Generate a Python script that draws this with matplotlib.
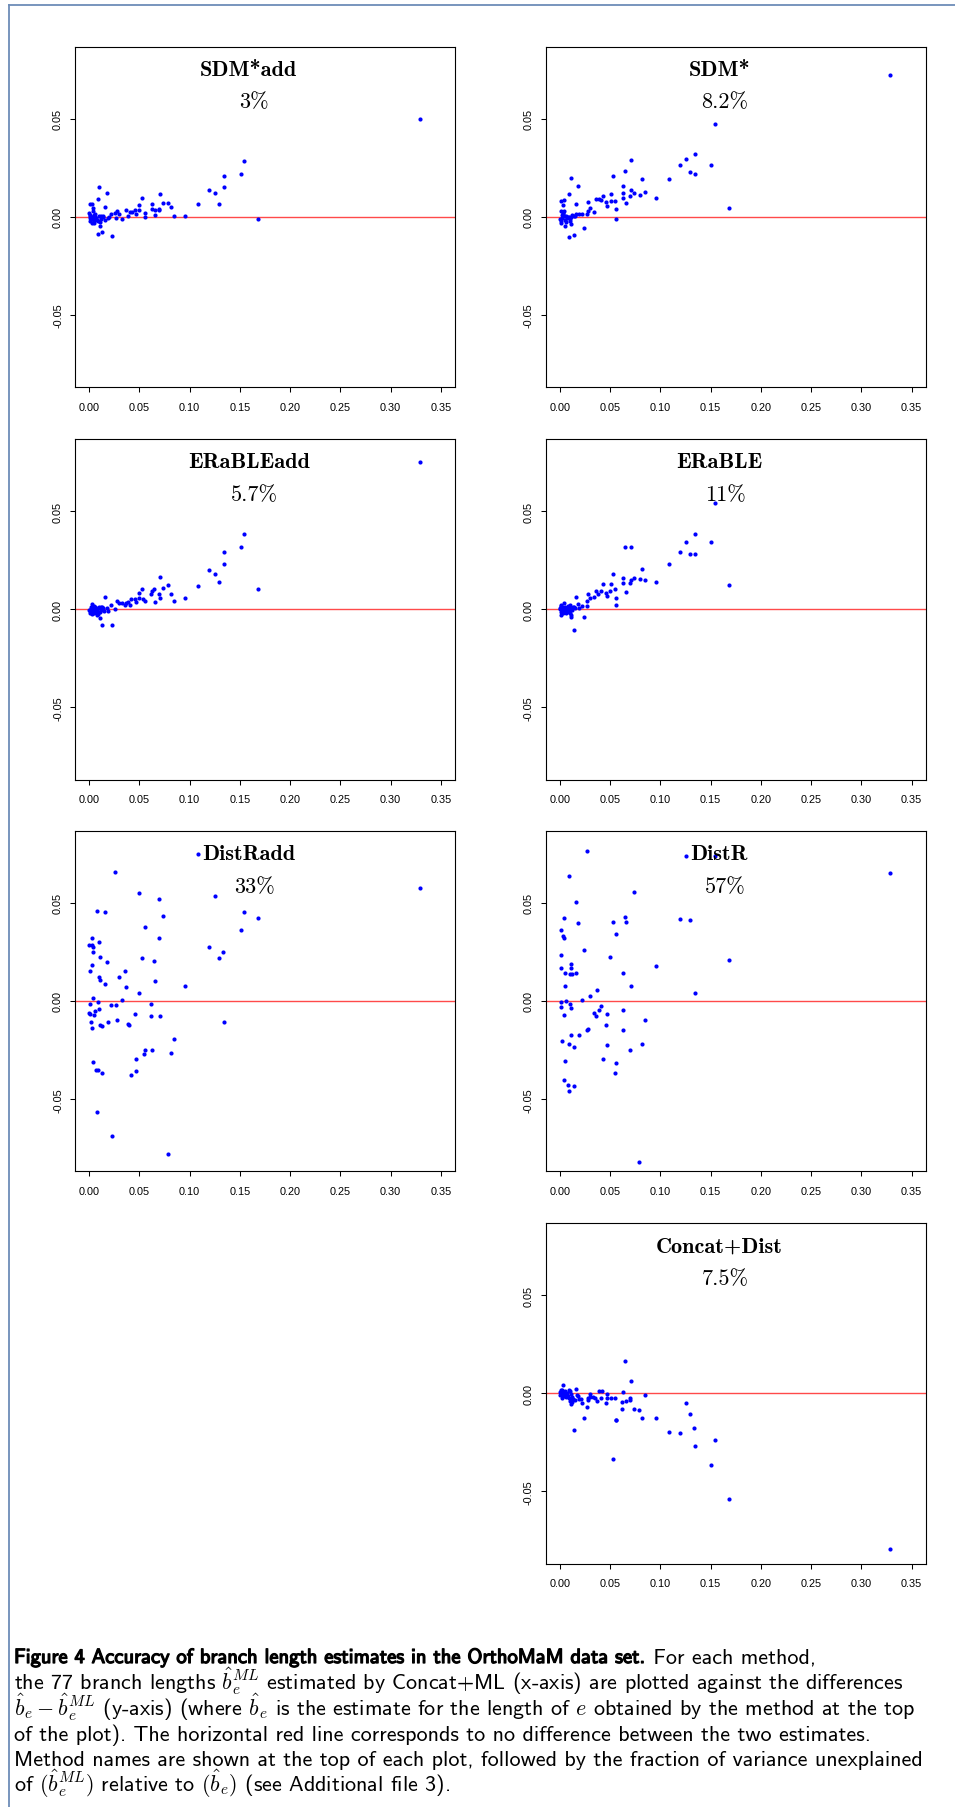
import numpy as np
import matplotlib.pyplot as plt
import matplotlib.patheffects as pe
from matplotlib.lines import Line2D

plt.rcParams['mathtext.fontset'] = 'cm'
plt.rcParams['axes.unicode_minus'] = False

W, H, DPI = 955, 1808, 100

# method names and fraction of variance unexplained
methods = ['SDM*add', 'SDM*', 'ERaBLEadd', 'ERaBLE', 'DistRadd', 'DistR', 'Concat+Dist']
fvu = ['3%', '8.2%', '5.7%', '11%', '33%', '57%', '7.5%']

# branch lengths (Concat+ML, x) and differences (y)
x_sdm_add = [0.3287, 0.1540, 0.1507, 0.1338, 0.1345, 0.1192, 0.1252, 0.1295, 0.1082, 0.1677,
             0.0103, 0.0176, 0.0086, 0.0525, 0.0707, 0.0737, 0.0787, 0.0817, 0.0621, 0.0501,
             0.0007, 0.0033, 0.0037, 0.0156, 0.0040, 0.0003, 0.0279, 0.0365, 0.0455, 0.0498,
             0.0624, 0.0651, 0.0697, 0.0700, 0.0554, 0.0468, 0.0405, 0.0388, 0.0299, 0.0262,
             0.0216, 0.0654, 0.0840, 0.0959, 0.0558, 0.0329, 0.0266, 0.0189, 0.0156, 0.0136,
             0.0096, 0.0050, 0.0010, 0.0040, 0.0053, 0.0106, 0.0080, 0.0106, 0.0093, 0.0133,
             0.0232, 0.0007, 0.0027, 0.0056, 0.0120, 0.0013,
             0.0010, 0.0022, 0.0070, 0.0045, 0.0090, 0.0115, 0.0063, 0.0030, 0.0140, 0.0200, 0.0430]
y_sdm_add = [0.0497, 0.0285, 0.0220, 0.0210, 0.0153, 0.0137, 0.0120, 0.0064, 0.0063, -0.0012,
             0.0154, 0.0120, 0.0088, 0.0095, 0.0114, 0.0071, 0.0069, 0.0051, 0.0064, 0.0059,
             0.0066, 0.0066, 0.0044, 0.0051, 0.0029, 0.0019, 0.0029, 0.0032, 0.0032, 0.0034,
             0.0042, 0.0036, 0.0042, 0.0032, 0.0019, 0.0014, 0.0024, 0.0005, 0.0015, 0.0020,
             0.0015, 0.0008, 0.0005, 0.0003, 0.0000, -0.0010, -0.0007, -0.0005, -0.0017, -0.0003,
             0.0002, -0.0020, -0.0020, -0.0012, -0.0034, -0.0029, -0.0017, -0.0049, -0.0090, -0.0080,
             -0.0097, -0.0008, 0.0000, -0.0002, -0.0012, 0.0008,
             0.0005, -0.0010, -0.0005, 0.0010, -0.0020, 0.0005, 0.0015, -0.0030, 0.0003, -0.0002, 0.0025]

x_sdm = [0.3287, 0.1549, 0.1343, 0.1257, 0.1194, 0.1509, 0.1300, 0.1350, 0.0713, 0.0653,
         0.0531, 0.0819, 0.1088, 0.0109, 0.0179, 0.0624, 0.0710, 0.0743, 0.0627, 0.0846,
         0.0090, 0.0511, 0.0428, 0.0703, 0.0796, 0.0627, 0.0962, 0.0362, 0.0388, 0.0408,
         0.0507, 0.0551, 0.0010, 0.0046, 0.0458, 0.0657, 0.0282, 0.0036, 0.0163, 0.0474,
         0.0040, 0.0013, 0.0564, 0.0305, 0.1682, 0.0338, 0.0279, 0.0272, 0.0222, 0.0196,
         0.0163, 0.0139, 0.0060, 0.0090, 0.0113, 0.0564, 0.0007, 0.0027, 0.0106, 0.0013,
         0.0116, 0.0056, 0.0239, 0.0096, 0.0139, 0.0073,
         0.0020, 0.0050, 0.0080, 0.0100, 0.0030, 0.0120, 0.0060, 0.0150, 0.0015, 0.0045, 0.0033]
y_sdm = [0.0721, 0.0470, 0.0319, 0.0295, 0.0261, 0.0266, 0.0229, 0.0220, 0.0290, 0.0232,
         0.0210, 0.0193, 0.0190, 0.0195, 0.0156, 0.0159, 0.0136, 0.0122, 0.0119, 0.0125,
         0.0115, 0.0115, 0.0107, 0.0105, 0.0110, 0.0097, 0.0095, 0.0090, 0.0088, 0.0085,
         0.0081, 0.0081, 0.0081, 0.0085, 0.0073, 0.0071, 0.0073, 0.0061, 0.0063, 0.0056,
         0.0031, 0.0027, 0.0041, 0.0046, 0.0044, 0.0025, 0.0029, 0.0014, 0.0015, 0.0014,
         0.0015, 0.0002, 0.0005, -0.0002, -0.0003, -0.0010, -0.0014, -0.0008, -0.0024, -0.0034,
         -0.0039, -0.0046, -0.0056, -0.0102, -0.0093, -0.0007,
         0.0010, -0.0015, 0.0000, -0.0010, 0.0020, 0.0008, -0.0025, 0.0005, -0.0020, 0.0005, 0.0015]

x_erable_add = [0.3287, 0.1540, 0.1507, 0.1338, 0.1345, 0.1192, 0.1252, 0.1295, 0.1082, 0.1677,
                0.0707, 0.0787, 0.0737, 0.0647, 0.0525, 0.0621, 0.0618, 0.0817, 0.0697, 0.0501,
                0.0704, 0.0959, 0.0422, 0.0455, 0.0501, 0.0541, 0.0840, 0.0554, 0.0465, 0.0651,
                0.0156, 0.0276, 0.0299, 0.0332, 0.0365, 0.0362, 0.0388, 0.0405, 0.0216, 0.0262,
                0.0033, 0.0133, 0.0176, 0.0103, 0.0056, 0.0023, 0.0007, 0.0027, 0.0040, 0.0073,
                0.0153, 0.0189, 0.0106, 0.0133, 0.0232, 0.0083, 0.0013, 0.0047, 0.0116,
                0.0003, 0.0010, 0.0017, 0.0030, 0.0037, 0.0050, 0.0060, 0.0065, 0.0090, 0.0093,
                0.0100, 0.0110, 0.0120, 0.0083, 0.0020, 0.0045, 0.0140, 0.0070]
y_erable_add = [0.0751, 0.0381, 0.0319, 0.0293, 0.0232, 0.0198, 0.0178, 0.0137, 0.0119, 0.0102,
                0.0163, 0.0122, 0.0110, 0.0103, 0.0102, 0.0092, 0.0078, 0.0080, 0.0080, 0.0083,
                0.0058, 0.0058, 0.0054, 0.0054, 0.0056, 0.0051, 0.0044, 0.0041, 0.0037, 0.0036,
                0.0063, 0.0042, 0.0032, 0.0031, 0.0031, 0.0020, 0.0036, 0.0022, 0.0024, 0.0000,
                0.0027, 0.0014, 0.0007, 0.0007, 0.0007, 0.0003, -0.0010, -0.0022, -0.0015, -0.0007,
                -0.0010, -0.0007, -0.0046, -0.0080, -0.0081, -0.0010, -0.0002, 0.0000, -0.0005,
                -0.0005, -0.0020, 0.0010, 0.0005, -0.0008, -0.0018, 0.0012, -0.0012, 0.0005, -0.0025,
                0.0012, -0.0015, 0.0010, -0.0030, -0.0005, 0.0015, 0.0005, 0.0002]

x_erable = [0.1549, 0.1343, 0.1257, 0.1509, 0.1194, 0.1300, 0.1350, 0.0653, 0.0713, 0.1088,
            0.0819, 0.0531, 0.0624, 0.0710, 0.0743, 0.0796, 0.0846, 0.0962, 0.0627, 0.0703,
            0.0428, 0.0511, 0.0551, 0.0362, 0.0408, 0.0458, 0.0504, 0.0657, 0.0385, 0.0474,
            0.0282, 0.0564, 0.0338, 0.0305, 0.0272, 0.0564, 0.1682, 0.0166, 0.0182, 0.0222,
            0.0269, 0.0196, 0.0146, 0.0106, 0.0083, 0.0040, 0.0017, 0.0003, 0.0056, 0.0116,
            0.0013, 0.0030, 0.0066, 0.0093, 0.0109, 0.0116, 0.0013, 0.0239, 0.0143, 0.0073,
            0.0126, 0.3287,
            0.0007, 0.0020, 0.0027, 0.0035, 0.0047, 0.0050, 0.0060, 0.0078, 0.0088, 0.0100,
            0.0103, 0.0133, 0.0010, 0.0043, 0.0155]
y_erable = [0.0539, 0.0381, 0.0342, 0.0342, 0.0293, 0.0280, 0.0280, 0.0315, 0.0317, 0.0231,
            0.0205, 0.0178, 0.0161, 0.0149, 0.0158, 0.0156, 0.0149, 0.0141, 0.0132, 0.0136,
            0.0131, 0.0131, 0.0105, 0.0093, 0.0095, 0.0085, 0.0095, 0.0090, 0.0080, 0.0070,
            0.0078, 0.0056, 0.0061, 0.0058, 0.0044, 0.0024, 0.0125, 0.0064, 0.0027, 0.0015,
            0.0015, 0.0005, 0.0012, 0.0020, 0.0015, 0.0031, 0.0015, 0.0003, 0.0007, 0.0000,
            -0.0015, -0.0007, -0.0017, -0.0012, -0.0029, -0.0037, -0.0029, -0.0041, -0.0108, -0.0002,
            -0.0002, 0.0950,
            0.0008, -0.0005, 0.0010, -0.0020, 0.0000, 0.0012, -0.0010, 0.0008, -0.0005, 0.0005,
            -0.0020, 0.0010, 0.0020, -0.0012, 0.0008]

x_distr_add = [0.0003, 0.0003, 0.0007, 0.0007, 0.0007, 0.0020, 0.0027, 0.0030, 0.0033, 0.0033,
               0.0037, 0.0037, 0.0040, 0.0043, 0.0050, 0.0056, 0.0073, 0.0083, 0.0083, 0.0090,
               0.0093, 0.0096, 0.0103, 0.0103, 0.0106, 0.0106, 0.0113, 0.0133, 0.0133, 0.0156,
               0.0156, 0.0176, 0.0186, 0.0216, 0.0232, 0.0262, 0.0272, 0.0276, 0.0299, 0.0329,
               0.0355, 0.0365, 0.0388, 0.0402, 0.0422, 0.0455, 0.0465, 0.0465, 0.0498, 0.0501,
               0.0525, 0.0544, 0.0558, 0.0558, 0.0614, 0.0618, 0.0621, 0.0647, 0.0654, 0.0697,
               0.0700, 0.0707, 0.0737, 0.0787, 0.0813, 0.0840, 0.0959, 0.1082, 0.1192, 0.1252,
               0.1295, 0.1335, 0.1345, 0.1507, 0.1544, 0.1677, 0.3287]
y_distr_add = [-0.0059, 0.0287, 0.0155, -0.0017, -0.0066, -0.0106, 0.0284, 0.0181, 0.0321, -0.0140,
               0.0274, -0.0311, 0.0015, 0.0247, -0.0074, -0.0049, -0.0352, 0.0460, -0.0564, -0.0353,
               -0.0005, 0.0123, 0.0301, -0.0039, 0.0108, -0.0125, 0.0225, -0.0130, -0.0367, 0.0455,
               0.0088, 0.0198, -0.0106, -0.0020, -0.0686, 0.0656, -0.0020, -0.0096, 0.0120, 0.0003,
               0.0155, 0.0069, -0.0118, -0.0123, -0.0377, -0.0066, -0.0297, -0.0357, 0.0041, 0.0551,
               0.0221, -0.0270, 0.0375, -0.0248, -0.0079, -0.0015, -0.0250, 0.0204, 0.0103, 0.0321,
               0.0521, -0.0079, 0.0433, -0.0781, -0.0267, -0.0196, 0.0074, 0.0749, 0.0275, 0.0534,
               0.0218, 0.0248, -0.0108, 0.0363, 0.0453, 0.0423, 0.0573]

x_distr = [0.0269, 0.1257, 0.1549, 0.0090, 0.0743, 0.0163, 0.0040, 0.0653, 0.1194, 0.1300,
           0.0531, 0.0657, 0.0179, 0.0013, 0.0564, 0.0030, 0.0040, 0.0239, 0.0013, 0.0504,
           0.1682, 0.0962, 0.0109, 0.0113, 0.0013, 0.0053, 0.0103, 0.0123, 0.0163, 0.0624,
           0.0050, 0.0713, 0.0372, 0.1350, 0.0305, 0.0222, 0.0066, 0.0013, 0.0100, 0.0408,
           0.0013, 0.0113, 0.0395, 0.0624, 0.0338, 0.0474, 0.0040, 0.0362, 0.0846, 0.0458,
           0.0282, 0.0275, 0.0627, 0.0113, 0.0192, 0.0027, 0.0093, 0.0474, 0.0819, 0.0143,
           0.0703, 0.0428, 0.0564, 0.0056, 0.0551, 0.0046, 0.0080, 0.0143, 0.0096, 0.0793,
           0.3287]
y_distr = [0.0764, 0.0740, 0.0740, 0.0634, 0.0553, 0.0505, 0.0423, 0.0429, 0.0417, 0.0411,
           0.0404, 0.0402, 0.0399, 0.0360, 0.0340, 0.0333, 0.0323, 0.0257, 0.0232, 0.0226,
           0.0210, 0.0179, 0.0189, 0.0169, 0.0166, 0.0142, 0.0139, 0.0139, 0.0140, 0.0140,
           0.0074, 0.0078, 0.0056, 0.0042, 0.0025, 0.0007, 0.0000, -0.0007, -0.0014, -0.0024,
           -0.0030, -0.0035, -0.0047, -0.0047, -0.0059, -0.0069, -0.0071, -0.0078, -0.0095, -0.0122,
           -0.0144, -0.0150, -0.0147, -0.0171, -0.0174, -0.0206, -0.0221, -0.0223, -0.0218, -0.0233,
           -0.0250, -0.0296, -0.0318, -0.0308, -0.0367, -0.0404, -0.0426, -0.0433, -0.0460, -0.0820,
           0.0653]

x_concat = [0.0650, 0.0713, 0.0036, 0.0013, 0.0163, 0.0096, 0.0388, 0.0425, 0.0627, 0.0846,
            0.0302, 0.0468, 0.0003, 0.0046, 0.0066, 0.0113, 0.0027, 0.0060, 0.0090, 0.0109,
            0.0113, 0.0119, 0.0156, 0.0182, 0.0192, 0.0279, 0.0285, 0.0332, 0.0348, 0.0368,
            0.0408, 0.0474, 0.0511, 0.0547, 0.0703, 0.0700, 0.0657, 0.0620, 0.0458, 0.0222,
            0.0269, 0.0623, 0.0740, 0.0793, 0.1254, 0.0239, 0.0819, 0.0962, 0.0561, 0.0564,
            0.1297, 0.1340, 0.0143, 0.1085, 0.1194, 0.1546, 0.1350, 0.0527, 0.1509, 0.1682,
            0.3287,
            0.0007, 0.0020, 0.0033, 0.0040, 0.0050, 0.0056, 0.0073, 0.0080, 0.0100, 0.0103,
            0.0123, 0.0133, 0.0176, 0.0210, 0.0300, 0.0020]
y_concat = [0.0164, 0.0063, 0.0042, 0.0019, 0.0022, 0.0019, 0.0010, 0.0012, 0.0007, -0.0007,
            -0.0003, -0.0003, -0.0007, 0.0005, -0.0007, -0.0003, -0.0025, -0.0017, -0.0024, -0.0034,
            -0.0057, -0.0047, -0.0034, -0.0014, -0.0029, -0.0024, -0.0035, -0.0020, -0.0025, -0.0037,
            -0.0025, -0.0024, -0.0025, -0.0024, -0.0024, -0.0034, -0.0037, -0.0044, -0.0052, -0.0051,
            -0.0068, -0.0078, -0.0078, -0.0085, -0.0049, -0.0127, -0.0127, -0.0128, -0.0135, -0.0134,
            -0.0106, -0.0176, -0.0186, -0.0199, -0.0203, -0.0237, -0.0269, -0.0335, -0.0363, -0.0536,
            -0.0795,
            0.0005, -0.0010, 0.0008, -0.0015, 0.0012, -0.0005, 0.0003, -0.0012, 0.0010, -0.0040,
            -0.0020, -0.0030, -0.0008, -0.0030, -0.0020, 0.0015]

xs = [x_sdm_add, x_sdm, x_erable_add, x_erable, x_distr_add, x_distr, x_concat]
ys = [y_sdm_add, y_sdm, y_erable_add, y_erable, y_distr_add, y_distr, y_concat]

xticks = [0.00, 0.05, 0.10, 0.15, 0.20, 0.25, 0.30, 0.35]
yticks = [-0.05, 0.00, 0.05]

caption = [
    r"the 77 branch lengths $\hat{b}_e^{ML}$ estimated by Concat+ML (x-axis) are plotted against the differences",
    r"$\hat{b}_e - \hat{b}_e^{ML}$ (y-axis) (where $\hat{b}_e$ is the estimate for the length of $e$ obtained by the method at the top",
    r"of the plot). The horizontal red line corresponds to no difference between the two estimates.",
    r"Method names are shown at the top of each plot, followed by the fraction of variance unexplained",
    r"of $(\hat{b}_e^{ML})$ relative to $(\hat{b}_e)$ (see Additional file 3).",
]
caption_bold = "Figure 4 Accuracy of branch length estimates in the OrthoMaM data set."
caption_first = " For each method,"

# layout in pixels
grid = [(0, 0), (0, 1), (1, 0), (1, 1), (2, 0), (2, 1), (3, 1)]
col_left = [75, 545.7]
row_top = [47.5, 440, 831.7, 1224]
pw, ph = 380, 340.5

fig = plt.figure(figsize=(W / DPI, H / DPI), dpi=DPI)

for k, (r, c) in enumerate(grid):
    l, t = col_left[c], row_top[r]
    ax = fig.add_axes([l / W, 1 - (t + ph) / H, pw / W, ph / H])
    ax.axhline(0, color='#ff4a4a', lw=1.0, zorder=1)
    ax.plot(xs[k], ys[k], 'o', color='#0000ff', ms=3.0, mec='none', zorder=2)
    ax.set_xlim(-0.014, 0.364)
    ax.set_ylim(-0.0867, 0.0867)
    ax.set_xticks(xticks)
    ax.set_xticklabels(['%.2f' % v for v in xticks])
    ax.set_yticks(yticks)
    ax.set_yticklabels(['%.2f' % v for v in yticks], rotation=90, va='center')
    for lab in ax.get_xticklabels() + ax.get_yticklabels():
        lab.set_fontfamily('Liberation Sans')
        lab.set_fontsize(7.8)
    ax.tick_params(axis='x', length=3.6, width=0.75, pad=7)
    ax.tick_params(axis='y', length=3.6, width=0.75, pad=5)
    for s in ax.spines.values():
        s.set_linewidth(0.8)
    ax.text(0.457, 1 - 28.3 / ph, methods[k], transform=ax.transAxes, ha='center',
            va='baseline', family='cmb10', fontsize=16)
    ax.text(0.472, 1 - 61 / ph, fvu[k], transform=ax.transAxes, ha='center',
            va='baseline', family='cmr10', fontsize=16)

# frame of the figure box
fcol = '#6d8cb8'
fig.add_artist(Line2D([9.3 / W, 9.3 / W], [0, 1 - 5.7 / H], transform=fig.transFigure, color=fcol, lw=1.3))
fig.add_artist(Line2D([9.3 / W, 1], [1 - 5.7 / H, 1 - 5.7 / H], transform=fig.transFigure, color=fcol, lw=1.3))

# caption
x0 = 14
base0 = 1664
step = 25.6
size = 15.9
bold = fig.text(x0 / W, 1 - base0 / H, caption_bold, family='cmss10', fontsize=14.8, va='baseline',
                path_effects=[pe.withStroke(linewidth=0.9, foreground='black')])
for i, s in enumerate(caption):
    fig.text(x0 / W, 1 - (base0 + step * (i + 1)) / H, s, family='cmss10',
             fontsize=size, va='baseline')

fig.canvas.draw()
rend = fig.canvas.get_renderer()
bw = bold.get_window_extent(renderer=rend).width
fig.text((x0 + bw) / W, 1 - base0 / H, caption_first, family='cmss10', fontsize=size, va='baseline')

fig.savefig('out.png', dpi=DPI)
